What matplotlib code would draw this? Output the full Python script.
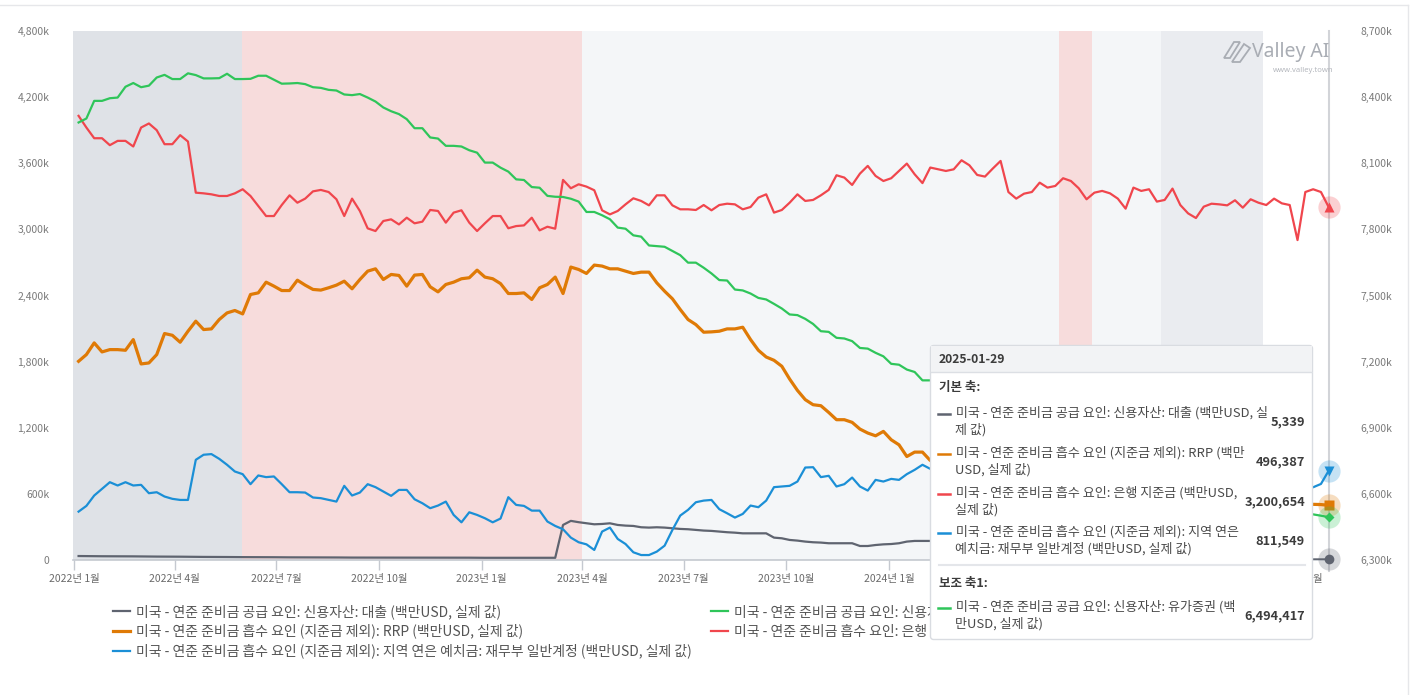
import matplotlib
matplotlib.use('Agg')
import matplotlib.pyplot as plt
from matplotlib.patches import FancyBboxPatch, Rectangle, Polygon
from matplotlib.lines import Line2D
import pandas as pd

plt.rcParams['font.family'] = ['Noto Sans CJK KR', 'DejaVu Sans']

# ---------------- data (values in k = thousand million USD) ----------------
start_date = '2022-01-05'
n_weeks = 161

loans = [36, 35, 35, 34, 34, 33, 33, 33, 32, 32,
         31, 31, 30, 30, 29, 29, 28, 28, 27, 27,
         26, 26, 26, 25, 25, 25, 24, 24, 24, 24,
         23, 23, 23, 23, 22, 22, 22, 22, 22, 22,
         22, 22, 21, 21, 21, 21, 21, 21, 21, 21,
         21, 20, 20, 20, 20, 20, 20, 20, 20, 20,
         20, 20, 318, 355, 343, 333, 324, 327, 333, 318,
         312, 309, 297, 294, 297, 294, 288, 282, 279, 273,
         267, 264, 258, 252, 248, 242, 242, 242, 242, 203,
         197, 182, 176, 167, 161, 158, 152, 152, 152, 152,
         127, 127, 136, 142, 145, 152, 167, 173, 173, 173,
         170, 168, 165, 160, 150, 140, 128, 115, 105, 98,
         90, 82, 75, 68, 60, 52, 45, 38, 30, 25,
         20, 17, 14, 12, 10, 9, 8, 8, 7, 7,
         6, 6, 6, 5, 5, 5, 5, 5, 5, 5,
         5, 5, 5, 5, 5, 5, 5, 5, 5, 5,
         5.339]

securities = [8285, 8303, 8383, 8383, 8395, 8398, 8447, 8464, 8445, 8452,
              8489, 8501, 8482, 8482, 8508, 8500, 8485, 8485, 8486, 8506,
              8482, 8482, 8483, 8497, 8497, 8479, 8461, 8462, 8464, 8459,
              8445, 8442, 8433, 8430, 8412, 8409, 8414, 8398, 8380, 8353,
              8336, 8323, 8300, 8259, 8259, 8217, 8212, 8179, 8179, 8176,
              8159, 8148, 8103, 8103, 8080, 8062, 8027, 8024, 7992, 7989,
              7952, 7948, 7947, 7939, 7926, 7879, 7879, 7864, 7846, 7808,
              7803, 7773, 7767, 7727, 7724, 7721, 7702, 7683, 7649, 7649,
              7626, 7600, 7570, 7568, 7527, 7523, 7509, 7489, 7482, 7462,
              7441, 7414, 7411, 7394, 7371, 7338, 7335, 7308, 7305, 7293,
              7262, 7259, 7240, 7224, 7190, 7186, 7164, 7153, 7115, 7115,
              7100, 7089, 7071, 7062, 7045, 7031, 7014, 7004, 6987, 6972,
              6955, 6944, 6927, 6911, 6896, 6882, 6872, 6861, 6847, 6839,
              6827, 6814, 6806, 6792, 6783, 6771, 6758, 6750, 6736, 6727,
              6716, 6702, 6694, 6680, 6671, 6660, 6646, 6638, 6624, 6615,
              6604, 6590, 6582, 6568, 6559, 6547, 6533, 6520, 6507, 6501,
              6494.417]

rrp = [1803, 1864, 1970, 1888, 1909, 1909, 1903, 2000, 1779, 1788,
       1864, 2055, 2039, 1976, 2076, 2167, 2091, 2097, 2182, 2242,
       2264, 2233, 2409, 2424, 2521, 2485, 2445, 2445, 2539, 2494,
       2455, 2449, 2470, 2494, 2530, 2461, 2545, 2621, 2642, 2545,
       2591, 2582, 2485, 2585, 2591, 2479, 2433, 2500, 2521, 2552,
       2561, 2630, 2567, 2552, 2508, 2418, 2418, 2424, 2364, 2470,
       2500, 2567, 2418, 2658, 2636, 2600, 2676, 2667, 2642, 2642,
       2621, 2600, 2612, 2612, 2515, 2439, 2370, 2273, 2182, 2136,
       2067, 2070, 2076, 2097, 2097, 2112, 2000, 1903, 1842, 1812,
       1758, 1642, 1539, 1455, 1409, 1400, 1339, 1273, 1273, 1249,
       1188, 1152, 1127, 1167, 1091, 1045, 939, 979, 979, 903,
       880, 870, 855, 840, 862, 825, 810, 790, 820, 805,
       780, 760, 745, 770, 750, 730, 745, 720, 700, 715,
       690, 700, 680, 660, 675, 650, 640, 665, 630, 615,
       600, 625, 590, 575, 560, 590, 570, 545, 560, 600,
       580, 555, 540, 525, 545, 610, 520, 510, 505, 503,
       496.387]

reserves = [4030, 3924, 3827, 3827, 3764, 3803, 3803, 3752, 3924, 3961,
            3900, 3773, 3773, 3855, 3797, 3333, 3327, 3318, 3303, 3303,
            3327, 3364, 3303, 3212, 3121, 3121, 3221, 3309, 3242, 3279,
            3345, 3358, 3339, 3273, 3121, 3279, 3167, 3009, 2985, 3076,
            3091, 3045, 3106, 3055, 3070, 3176, 3167, 3061, 3152, 3173,
            3061, 2985, 3055, 3121, 3121, 3010, 3030, 3036, 3106, 2991,
            3024, 3006, 3449, 3373, 3409, 3388, 3355, 3173, 3136, 3167,
            3227, 3282, 3258, 3218, 3309, 3309, 3218, 3182, 3182, 3176,
            3221, 3173, 3221, 3233, 3227, 3182, 3203, 3288, 3318, 3152,
            3176, 3242, 3318, 3258, 3267, 3309, 3358, 3491, 3470, 3403,
            3506, 3576, 3485, 3439, 3464, 3530, 3597, 3500, 3420, 3561,
            3545, 3530, 3545, 3627, 3582, 3494, 3479, 3552, 3621, 3339,
            3279, 3324, 3339, 3424, 3379, 3394, 3464, 3439, 3373, 3273,
            3333, 3349, 3327, 3279, 3188, 3379, 3349, 3364, 3252, 3267,
            3370, 3221, 3145, 3103, 3206, 3233, 3227, 3218, 3264, 3197,
            3273, 3242, 3221, 3279, 3236, 3221, 2903, 3339, 3364, 3339,
            3200.654]

tga = [439, 491, 585, 645, 706, 676, 706, 676, 682, 606,
       615, 576, 555, 545, 545, 909, 955, 961, 918, 864,
       803, 779, 688, 767, 752, 758, 688, 615, 615, 612,
       567, 561, 545, 530, 673, 585, 612, 688, 661, 621,
       582, 636, 636, 551, 515, 470, 494, 530, 409, 342,
       433, 409, 379, 342, 376, 570, 500, 491, 448, 448,
       349, 309, 279, 203, 161, 142, 91, 258, 294, 191,
       145, 70, 45, 45, 76, 130, 273, 403, 455, 524,
       539, 545, 461, 424, 385, 418, 494, 479, 539, 661,
       667, 673, 712, 839, 842, 752, 764, 667, 688, 748,
       667, 630, 727, 712, 736, 727, 779, 818, 864, 827,
       790, 760, 775, 740, 765, 790, 720, 745, 800, 930,
       880, 760, 720, 700, 690, 740, 710, 760, 780, 730,
       750, 770, 740, 790, 760, 800, 770, 810, 830, 850,
       820, 860, 800, 830, 790, 810, 760, 800, 780, 720,
       740, 700, 760, 790, 720, 690, 730, 700, 660, 690,
       811.549]

series_labels = {
    'loans': '미국 - 연준 준비금 공급 요인: 신용자산: 대출 (백만USD, 실제 값)',
    'securities': '미국 - 연준 준비금 공급 요인: 신용자산: 유가증권 (백만USD, 실제 값)',
    'rrp': '미국 - 연준 준비금 흡수 요인 (지준금 제외): RRP (백만USD, 실제 값)',
    'reserves': '미국 - 연준 준비금 흡수 요인: 은행 지준금 (백만USD, 실제 값)',
    'tga': '미국 - 연준 준비금 흡수 요인 (지준금 제외): 지역 연은 예치금: 재무부 일반계정 (백만USD, 실제 값)',
}

band_starts = ['2021-12-31', '2022-05-31', '2023-04-01', '2024-06-01', '2024-07-01', '2024-09-01']
band_ends = ['2022-05-31', '2023-04-01', '2024-06-01', '2024-07-01', '2024-09-01', '2024-12-01']
band_colors = ['#dfe2e7', '#f7dcdc', '#f4f6f8', '#f7dcdc', '#f4f6f8', '#eaecf0']

left_ticks = [0, 600, 1200, 1800, 2400, 3000, 3600, 4200, 4800]
right_ticks = [6300, 6600, 6900, 7200, 7500, 7800, 8100, 8400, 8700]
x_tick_dates = ['2022-01-01', '2022-04-01', '2022-07-01', '2022-10-01', '2023-01-01',
                '2023-04-01', '2023-07-01', '2023-10-01', '2024-01-01', '2024-04-01',
                '2024-07-01', '2024-10-01', '2025-01-01']
# labels that sit under the tooltip in the reference are not visible there
hidden_tick_dates = ['2024-04-01', '2024-07-01', '2024-10-01']

tooltip_date = '2025-01-29'
tooltip_values = ['5,339', '496,387', '3,200,654', '811,549', '6,494,417']

C_GRAY = '#5f6470'
C_GREEN = '#2fc55a'
C_ORANGE = '#df7a06'
C_RED = '#f0464d'
C_BLUE = '#1b8fd6'

dates = pd.date_range(start_date, periods=n_weeks, freq='7D')

# ---------------- figure ----------------
W, H = 1422, 695
fig = plt.figure(figsize=(W / 100, H / 100), dpi=100)
fig.patch.set_facecolor('white')


def fx(x):
    return x / W


def fy(y):
    return 1 - y / H


ax = fig.add_axes([fx(73), fy(560), fx(1331) - fx(73), fy(31) - fy(560)])
ax.set_facecolor('white')
for s, e, c in zip(band_starts, band_ends, band_colors):
    ax.axvspan(pd.Timestamp(s), pd.Timestamp(e), color=c, lw=0, zorder=0)

ax.set_xlim(pd.Timestamp('2021-12-31'), pd.Timestamp('2025-01-31'))
ax.set_ylim(0, 4800)

l_loans, = ax.plot(dates, loans, color=C_GRAY, lw=1.6, zorder=3, label=series_labels['loans'])
l_rrp, = ax.plot(dates, rrp, color=C_ORANGE, lw=2.3, zorder=3, label=series_labels['rrp'])
l_res, = ax.plot(dates, reserves, color=C_RED, lw=1.6, zorder=3, label=series_labels['reserves'])
l_tga, = ax.plot(dates, tga, color=C_BLUE, lw=1.6, zorder=3, label=series_labels['tga'])

ax2 = ax.twinx()
ax2.set_ylim(6300, 8700)
l_sec, = ax2.plot(dates, securities, color=C_GREEN, lw=1.6, zorder=3, label=series_labels['securities'])

# crosshair
ax.axvline(dates[-1], ymin=-0.02, ymax=1.0, color='#d2d4d8', lw=1.5, zorder=2, clip_on=False)

# end markers with halos
for axx, vals, col, mk, ms in [(ax, loans, C_GRAY, 'o', 7), (ax, rrp, C_ORANGE, 's', 7),
                               (ax, reserves, C_RED, '^', 7.5), (ax, tga, C_BLUE, 'v', 7.5),
                               (ax2, securities, C_GREEN, 'D', 5.5)]:
    axx.plot([dates[-1]], [vals[-1]], marker='o', ms=16, color=col, alpha=0.25, mec='none',
             clip_on=False, zorder=5)
    axx.plot([dates[-1]], [vals[-1]], marker=mk, ms=ms, color=col, mec='none',
             clip_on=False, zorder=6)

# axes styling
for a in (ax, ax2):
    for sp in a.spines.values():
        sp.set_visible(False)
ax.spines['bottom'].set_visible(True)
ax.spines['bottom'].set_color('#c5c9d0')
ax.spines['bottom'].set_linewidth(1.2)

ax.set_xticks([pd.Timestamp(d) for d in x_tick_dates])
ax.set_xticklabels(['' if d in hidden_tick_dates else
                    f"{pd.Timestamp(d).year}년 {pd.Timestamp(d).month}월" for d in x_tick_dates])
ax.tick_params(axis='x', length=7, width=1, color='#c5c9d0', labelsize=7.5, labelcolor='#6a6a6a', pad=3)

ax.set_yticks(left_ticks)
ax.set_yticklabels(['0' if v == 0 else f"{v:,}k" for v in left_ticks])
ax.tick_params(axis='y', length=0, labelsize=7.5, labelcolor='#7a7a7a', pad=17)
ax2.set_yticks(right_ticks)
ax2.set_yticklabels([f"{v:,}k" for v in right_ticks])
ax2.tick_params(axis='y', length=0, labelsize=7.5, labelcolor='#7a7a7a', pad=21)
ax.grid(False)
ax2.grid(False)

# ---------------- legend ----------------
leg_kw = dict(frameon=False, fontsize=10, handlelength=1.25, handletextpad=0.4,
              labelspacing=0.36, borderpad=0, borderaxespad=0, labelcolor='#555555')
leg1 = fig.legend(handles=[l_loans, l_rrp, l_tga], loc='upper left',
                  bbox_to_anchor=(fx(113), fy(604)), **leg_kw)
leg2 = fig.legend(handles=[l_sec, l_res], loc='upper left',
                  bbox_to_anchor=(fx(711), fy(604)), **leg_kw)

# ---------------- logo ----------------
fig.text(fx(1252), fy(52), 'Valley AI', fontsize=14, color='#a9adb4', va='center', ha='left',
         family=['Noto Sans', 'DejaVu Sans'])
fig.text(fx(1334), fy(70), 'www.valley.town', fontsize=5.5, color='#b5b8be', va='center', ha='right',
         family=['Noto Sans', 'DejaVu Sans'])
logo1 = Polygon([[fx(1224), fy(58)], [fx(1234), fy(42)], [fx(1240), fy(42)], [fx(1230), fy(58)]],
                closed=True, fill=False, ec='#a9adb4', lw=1.3, transform=fig.transFigure)
logo2 = Polygon([[fx(1232), fy(62)], [fx(1244), fy(44)], [fx(1250), fy(48)], [fx(1240), fy(62)]],
                closed=True, fill=False, ec='#a9adb4', lw=1.3, transform=fig.transFigure)
fig.patches.extend([logo1, logo2])

# frame lines of the page
fig.add_artist(Line2D([0, fx(1408)], [fy(5), fy(5)], color='#e6e7ea', lw=1, transform=fig.transFigure))
fig.add_artist(Line2D([fx(1408), fx(1408)], [fy(5), 0], color='#e6e7ea', lw=1, transform=fig.transFigure))

# ---------------- tooltip ----------------
TX0, TY0, TW, TH = 930, 345, 383, 295
tt = fig.add_axes([fx(TX0), fy(TY0 + TH), TW / W, TH / H])
tt.set_zorder(20)
tt.set_xlim(0, TW)
tt.set_ylim(TH, 0)
tt.axis('off')
tt.add_patch(FancyBboxPatch((0.5, 0.5), TW - 1, TH - 1, boxstyle='round,pad=0,rounding_size=3',
                            fc='white', ec='#d9dce1', lw=1.0, clip_on=False))
tt.add_patch(Rectangle((1, 1), TW - 2, 26, fc='#f2f3f5', ec='none'))
tt.plot([1, TW - 1], [27, 27], color='#dcdfe4', lw=1)
tt.text(9, 14.5, tooltip_date, fontsize=8.8, fontweight='bold', color='#3c3c3c', va='center')
tt.text(9, 43, '기본 축:', fontsize=9, fontweight='bold', color='#3c3c3c', va='center')

tt_rows = [
    (C_GRAY, ' 미국 - 연준 준비금 공급 요인: 신용자산: 대출 (백만USD, 실', '제 값)', 68, tooltip_values[0]),
    (C_ORANGE, ' 미국 - 연준 준비금 흡수 요인 (지준금 제외): RRP (백만', 'USD, 실제 값)', 108, tooltip_values[1]),
    (C_RED, ' 미국 - 연준 준비금 흡수 요인: 은행 지준금 (백만USD,', '실제 값)', 148, tooltip_values[2]),
    (C_BLUE, ' 미국 - 연준 준비금 흡수 요인 (지준금 제외): 지역 연은', '예치금: 재무부 일반계정 (백만USD, 실제 값)', 187, tooltip_values[3]),
    (C_GREEN, ' 미국 - 연준 준비금 공급 요인: 신용자산: 유가증권 (백', '만USD, 실제 값)', 262, tooltip_values[4]),
]
for col, l1, l2, yy, val in tt_rows:
    tt.plot([8, 20], [yy + 1, yy + 1], color=col, lw=1.8)
    tt.text(23, yy, l1, fontsize=9.4, color='#4a4a4a', va='center')
    tt.text(25, yy + 16.5, l2, fontsize=9.4, color='#4a4a4a', va='center')
    tt.text(375, yy + 8.5, val, fontsize=9.2, fontweight='bold', color='#3c3c3c', va='center', ha='right')

tt.plot([9, 375], [220, 220], color='#e4e6ea', lw=1.5)
tt.text(9, 238, '보조 축1:', fontsize=9, fontweight='bold', color='#3c3c3c', va='center')

fig.savefig('out.png', dpi=100, facecolor='white')
